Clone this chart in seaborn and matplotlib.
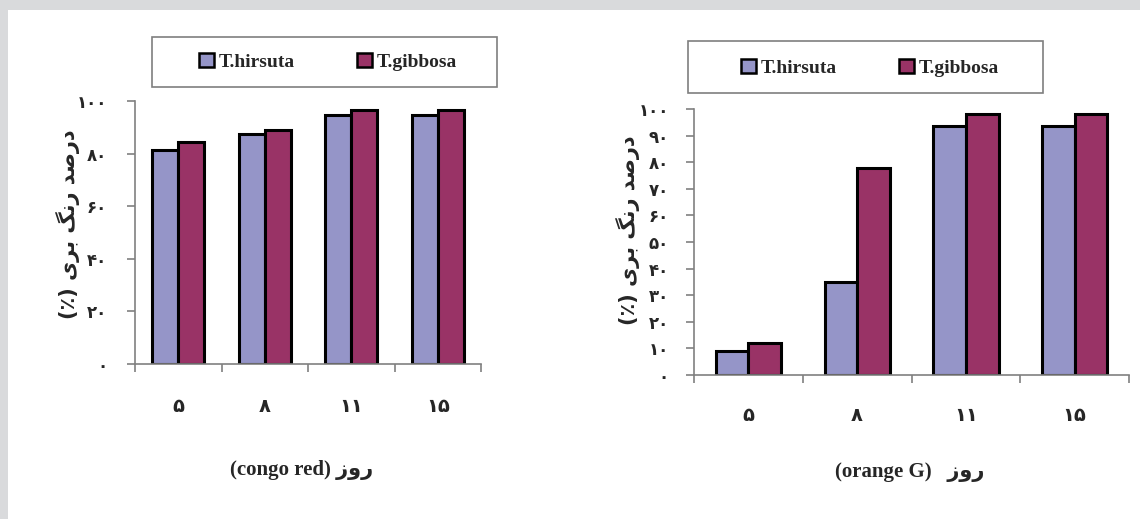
import matplotlib
matplotlib.use("Agg")
import matplotlib.pyplot as plt
from matplotlib.patches import Rectangle, Patch
from matplotlib.font_manager import FontProperties
from matplotlib.ticker import FixedLocator
import pandas as pd
import seaborn as sns

# Days of incubation (Persian numerals) and the two fungal strains
days = ["۵", "۸", "۱۱", "۱۵"]
species = ["T.hirsuta", "T.gibbosa"]

# Decolorization (%) of congo red
congo_hirsuta = [81.5, 87.5, 94.5, 94.5]
congo_gibbosa = [84.5, 89.0, 96.5, 96.5]

# Decolorization (%) of orange G
orange_hirsuta = [9.0, 35.0, 93.5, 93.5]
orange_gibbosa = [12.0, 78.0, 98.0, 98.0]

congo_yticks = [0, 20, 40, 60, 80, 100]
orange_yticks = [0, 10, 20, 30, 40, 50, 60, 70, 80, 90, 100]

# Persian labels written in shaped (presentation) forms, left-to-right visual order
ylabel_fa = "(٪) ﯼﺮﺑ ﮓﻧﺭ ﺪﺻﺭﺩ"
xlabel_congo = "(congo red) زور"
xlabel_orange = "(orange G)   زور"

colors = ["#9595c8", "#993366"]
fa_digits = str.maketrans("0123456789", "۰۱۲۳۴۵۶۷۸۹")

sns.set_theme(style="white")
plt.rcParams["font.family"] = ["DejaVu Sans"]

W, H = 1140, 519
fig = plt.figure(figsize=(W / 100, H / 100), dpi=100)
fig.patch.set_facecolor("white")

# grey page border (top and left)
border = "#d9dadc"
fig.patches.append(Rectangle((0, 1 - 10 / H), 1, 10 / H, transform=fig.transFigure,
                             facecolor=border, edgecolor="none", zorder=0))
fig.patches.append(Rectangle((0, 0), 8 / W, 1, transform=fig.transFigure,
                             facecolor=border, edgecolor="none", zorder=0))


def px_box(x0, y0, x1, y1):
    """Figure-fraction rect from pixel corners (top-left origin)."""
    return [x0 / W, 1 - y1 / H, (x1 - x0) / W, (y1 - y0) / H]


def frame(h, g):
    return pd.DataFrame({
        "day": days * 2,
        "value": list(h) + list(g),
        "species": [species[0]] * len(days) + [species[1]] * len(days),
    })


serif_bold = FontProperties(family=["Liberation Serif", "DejaVu Sans"], weight="bold")


def panel(rect, df, yticks, ypad, xpad, xlabel, xlabel_xy, ylabel_xy, legend_box, legend_center):
    ax = fig.add_axes(px_box(*rect))
    sns.barplot(data=df, x="day", y="value", hue="species", order=days, hue_order=species,
                palette=colors, saturation=1, width=0.6, gap=0, errorbar=None,
                edgecolor="black", linewidth=2.2, legend=False, ax=ax)
    ax.set_xlim(-0.5, len(days) - 0.5)
    ax.set_ylim(0, 100)
    ax.set_xlabel("")
    ax.set_ylabel("")
    for s in ["top", "right"]:
        ax.spines[s].set_visible(False)
    for s in ["left", "bottom"]:
        ax.spines[s].set_color("#808080")
        ax.spines[s].set_linewidth(1.2)
    ax.set_yticks(yticks)
    ax.set_yticklabels([str(v).translate(fa_digits) for v in yticks],
                       fontsize=12, fontweight="bold")
    ax.tick_params(axis="y", length=6, width=1.2, color="#808080", pad=ypad, left=True)
    ax.set_xticks(range(len(days)))
    ax.set_xticklabels(days, fontsize=14, fontweight="bold")
    ax.xaxis.set_minor_locator(FixedLocator([i - 0.5 for i in range(len(days) + 1)]))
    ax.tick_params(axis="x", which="major", length=0, pad=xpad)
    ax.tick_params(axis="x", which="minor", length=6, width=1.2, color="#808080", bottom=True)

    fig.text(xlabel_xy[0] / W, 1 - xlabel_xy[1] / H, xlabel, ha="center", va="center",
             fontproperties=serif_bold, fontsize=15)
    fig.text(ylabel_xy[0] / W, 1 - ylabel_xy[1] / H, ylabel_fa, ha="center", va="center",
             rotation=90, fontsize=15, fontweight="bold")

    fig.patches.append(Rectangle(px_box(*legend_box)[:2], *px_box(*legend_box)[2:],
                                 transform=fig.transFigure, facecolor="white",
                                 edgecolor="#7f7f7f", linewidth=1.2, zorder=1))
    handles = [Patch(facecolor=c, edgecolor="black", linewidth=1.8, label=s)
               for c, s in zip(colors, species)]
    fp = FontProperties(family=["Liberation Serif"], weight="bold", size=14)
    fig.legend(handles=handles, ncol=2, frameon=False, loc="center",
               bbox_to_anchor=(legend_center[0] / W, 1 - legend_center[1] / H),
               prop=fp, handlelength=0.75, handleheight=0.75, handletextpad=0.25,
               columnspacing=3.2)
    return ax


panel((135, 101, 481, 364), frame(congo_hirsuta, congo_gibbosa), congo_yticks,
      ypad=14, xpad=24, xlabel=xlabel_congo, xlabel_xy=(302, 470),
      ylabel_xy=(68, 224), legend_box=(152, 37, 497, 87), legend_center=(328, 62))

panel((694, 109, 1129, 375), frame(orange_hirsuta, orange_gibbosa), orange_yticks,
      ypad=12, xpad=22, xlabel=xlabel_orange, xlabel_xy=(910, 472),
      ylabel_xy=(628, 230), legend_box=(688, 41, 1043, 93), legend_center=(870, 68))

fig.savefig("out.png", dpi=100, facecolor="white")
